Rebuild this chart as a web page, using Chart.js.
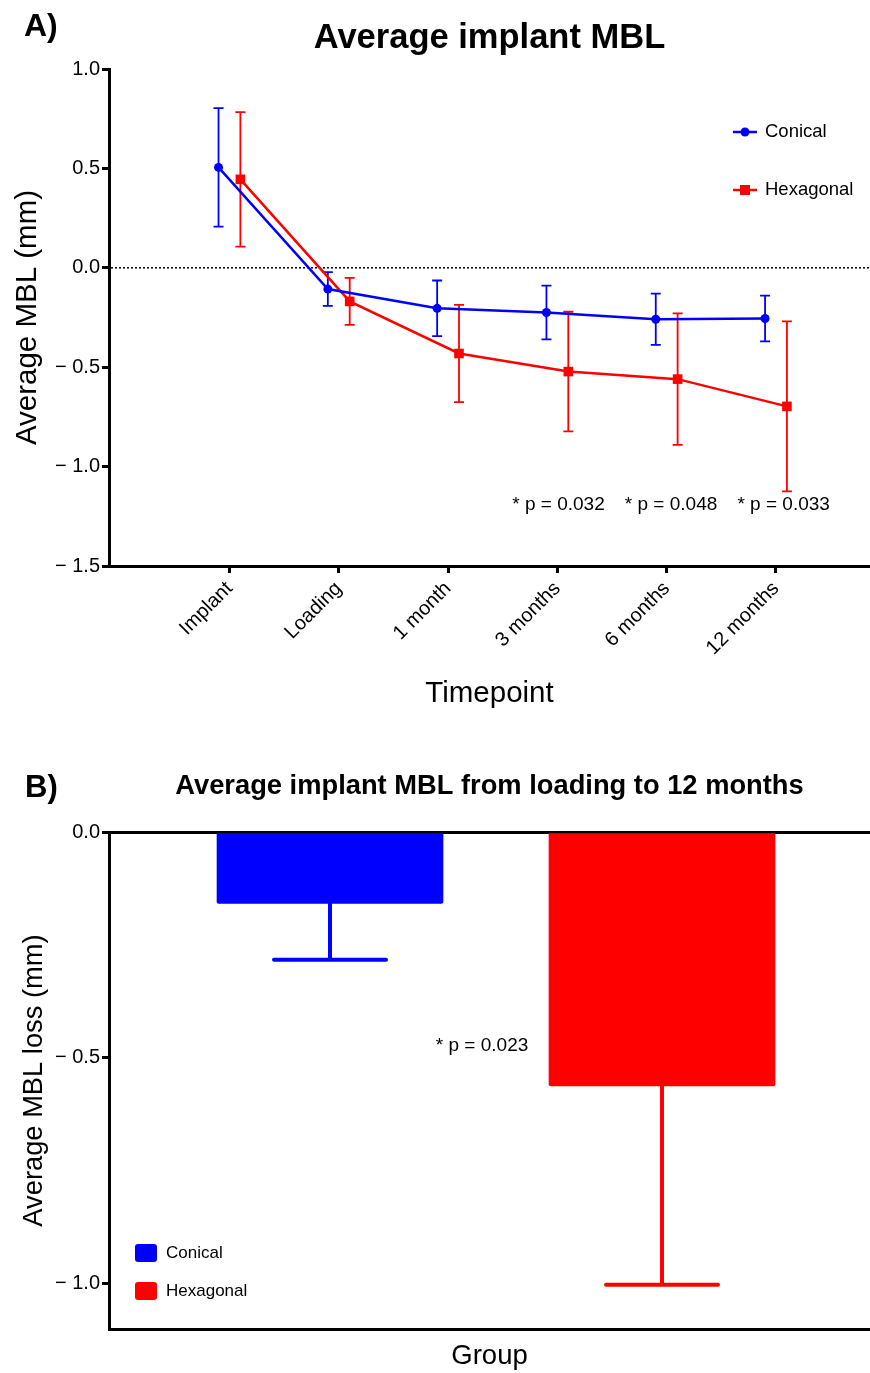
<!DOCTYPE html>
<html><head><meta charset="utf-8">
<script src="https://cdn.jsdelivr.net/npm/chart.js@4.4.1/dist/chart.umd.min.js"></script>
<style>
html,body{margin:0;padding:0;background:#fff;}
#wrap{position:relative;width:870px;height:1373px;}
#cA{position:absolute;left:0;top:0;}
#cB{position:absolute;left:0;top:720px;}
</style></head><body>
<div id="wrap">
<canvas id="cA" width="870" height="720"></canvas>
<canvas id="cB" width="870" height="653"></canvas>
</div>
<script>
// ---------- Data: chart A ----------
const timepoints = ['Implant', 'Loading', '1 month', '3 months', '6 months', '12 months'];
const conicalMean = [0.505, -0.107, -0.204, -0.225, -0.259, -0.255];
const conicalSD   = [0.298, 0.085, 0.140, 0.135, 0.129, 0.115];
const hexMean     = [0.445, -0.169, -0.431, -0.522, -0.560, -0.697];
const hexSD       = [0.338, 0.118, 0.245, 0.301, 0.331, 0.428];
const yTicksA = [1.0, 0.5, 0.0, -0.5, -1.0, -1.5];
const pLabelsA = ['* p = 0.032', '* p = 0.048', '* p = 0.033'];
const pPosA = [3.01, 4.04, 5.07];
const titleA = 'Average implant MBL';

// ---------- Data: chart B ----------
const groups = ['Conical', 'Hexagonal'];
const lossMean = [-0.158, -0.562];
const lossSD = [0.125, 0.440];
const yTicksB = [0.0, -0.5, -1.0];
const pLabelB = '* p = 0.023';
const titleB = 'Average implant MBL from loading to 12 months';

const BLUE = '#0000FF', RED = '#FF0000';
const FONT = "'Liberation Sans', Arial, Helvetica, sans-serif";
Chart.defaults.font.family = FONT;
Chart.defaults.color = '#000';

function fmt(v) {
  const n = Number(v);
  if (Math.abs(n) < 1e-9) return '0.0';
  return n < 0 ? '\u2212 ' + Math.abs(n).toFixed(1) : n.toFixed(1);
}
function noPad(s) { s.paddingLeft = 0; s.paddingRight = 0; }

// ---------- Chart A ----------
const sdA = [conicalSD, hexSD];
const pluginA = {
  id: 'pluginA',
  beforeDatasetsDraw(chart) {
    const {ctx, chartArea} = chart;
    const x = chart.scales.x, y = chart.scales.y;
    ctx.save();
    ctx.strokeStyle = '#000'; ctx.lineWidth = 1.5; ctx.setLineDash([2, 2]);
    const y0 = y.getPixelForValue(0);
    ctx.beginPath(); ctx.moveTo(chartArea.left + 2, y0); ctx.lineTo(chartArea.right, y0); ctx.stroke();
    ctx.setLineDash([]);
    chart.data.datasets.forEach((ds, di) => {
      ctx.strokeStyle = ds.borderColor; ctx.lineWidth = 1.8;
      ds.data.forEach((p, i) => {
        const sd = sdA[di][i];
        const px = x.getPixelForValue(p.x);
        const t = y.getPixelForValue(p.y + sd), b = y.getPixelForValue(p.y - sd);
        ctx.beginPath();
        ctx.moveTo(px, t); ctx.lineTo(px, b);
        ctx.moveTo(px - 5, t); ctx.lineTo(px + 5, t);
        ctx.moveTo(px - 5, b); ctx.lineTo(px + 5, b);
        ctx.stroke();
      });
    });
    ctx.restore();
  },
  afterDraw(chart) {
    const {ctx, chartArea} = chart;
    const x = chart.scales.x, y = chart.scales.y;
    ctx.save();
    ctx.fillStyle = '#000';
    ctx.font = 'bold 32px ' + FONT;
    ctx.textAlign = 'left'; ctx.textBaseline = 'alphabetic';
    ctx.fillText('A)', 24, 36);
    ctx.font = 'bold 34.5px ' + FONT;
    ctx.textAlign = 'center'; ctx.textBaseline = 'middle';
    ctx.fillText(titleA, (chartArea.left + chartArea.right) / 2, 38);
    // p annotations
    ctx.font = '19px ' + FONT;
    pLabelsA.forEach((t, i) => ctx.fillText(t, x.getPixelForValue(pPosA[i]), y.getPixelForValue(-1.19)));
    // legend
    const ly = [132, 190];
    chart.data.datasets.forEach((ds, i) => {
      ctx.strokeStyle = ds.borderColor; ctx.fillStyle = ds.borderColor; ctx.lineWidth = 2.5;
      ctx.beginPath(); ctx.moveTo(733, ly[i]); ctx.lineTo(757, ly[i]); ctx.stroke();
      if (i === 0) { ctx.beginPath(); ctx.arc(745, ly[i], 4.5, 0, Math.PI * 2); ctx.fill(); }
      else { ctx.fillRect(740, ly[i] - 5, 10, 10); }
      ctx.fillStyle = '#000';
      ctx.font = '18.5px ' + FONT;
      ctx.textAlign = 'left'; ctx.textBaseline = 'middle';
      ctx.fillText(ds.label, 765, ly[i]);
    });
    ctx.restore();
  }
};

new Chart(document.getElementById('cA'), {
  type: 'scatter',
  data: {
    datasets: [
      { label: 'Conical', data: conicalMean.map((v, i) => ({x: i - 0.1, y: v})), showLine: true,
        borderColor: BLUE, backgroundColor: BLUE, borderWidth: 2.5, pointStyle: 'circle',
        pointRadius: 4.5, pointBorderWidth: 0, pointBackgroundColor: BLUE },
      { label: 'Hexagonal', data: hexMean.map((v, i) => ({x: i + 0.1, y: v})), showLine: true,
        borderColor: RED, backgroundColor: RED, borderWidth: 2.5, pointStyle: 'rect',
        pointRadius: 6.8, pointBorderWidth: 0, pointBackgroundColor: RED }
    ]
  },
  options: {
    responsive: false, animation: false,
    layout: {autoPadding: false, padding: {top: 69, left: 0, right: 0, bottom: 0}},
    plugins: { legend: {display: false}, tooltip: {enabled: false}, title: {display: false} },
    scales: {
      x: {
        type: 'linear', min: -1.102, max: 5.86, offset: false,
        afterBuildTicks(s) { s.ticks = timepoints.map((t, i) => ({value: i})); },
        ticks: {callback: (v) => timepoints[Math.round(v)], minRotation: 45, maxRotation: 45,
          autoSkip: false, font: {size: 20}, padding: 4, color: '#000'},
        grid: {drawOnChartArea: false, tickLength: 7, tickColor: '#000', tickWidth: 3},
        border: {color: '#000', width: 3},
        title: {display: true, text: 'Timepoint', font: {size: 29.5}, padding: {top: 0, bottom: 8}, color: '#000'},
        afterFit(s) { s.height = 154; noPad(s); }
      },
      y: {
        min: -1.5, max: 1.0,
        afterBuildTicks(s) { s.ticks = yTicksA.map(v => ({value: v})); },
        ticks: {callback: fmt, font: {size: 20}, padding: 2, color: '#000'},
        grid: {drawOnChartArea: false, tickLength: 7, tickColor: '#000', tickWidth: 3},
        border: {color: '#000', width: 3},
        title: {display: true, text: 'Average MBL (mm)', font: {size: 29.5}, padding: {top: 10, bottom: 0}, color: '#000'},
        afterFit(s) { s.width = 109; }
      }
    }
  },
  plugins: [pluginA]
});

// ---------- Chart B ----------
const colorsB = [BLUE, RED];
const pluginB = {
  id: 'pluginB',
  afterDatasetsDraw(chart) {
    const {ctx} = chart;
    const x = chart.scales.x, y = chart.scales.y;
    ctx.save();
    ctx.lineWidth = 4; ctx.lineCap = 'round';
    lossMean.forEach((m, i) => {
      const px = x.getPixelForValue(i);
      const t = y.getPixelForValue(m), b = y.getPixelForValue(m - lossSD[i]);
      ctx.strokeStyle = colorsB[i];
      ctx.beginPath();
      ctx.moveTo(px, t); ctx.lineTo(px, b);
      ctx.moveTo(px - 56, b); ctx.lineTo(px + 56, b);
      ctx.stroke();
    });
    ctx.restore();
  },
  afterDraw(chart) {
    const {ctx, chartArea} = chart;
    const x = chart.scales.x, y = chart.scales.y;
    ctx.save();
    ctx.fillStyle = '#000';
    ctx.font = 'bold 31px ' + FONT;
    ctx.textAlign = 'left'; ctx.textBaseline = 'alphabetic';
    ctx.fillText('B)', 25, 77);
    ctx.font = 'bold 27.3px ' + FONT;
    ctx.textAlign = 'center'; ctx.textBaseline = 'middle';
    ctx.fillText(titleB, (chartArea.left + chartArea.right) / 2, 66);
    ctx.font = '19px ' + FONT;
    ctx.fillText(pLabelB, x.getPixelForValue(0.458), y.getPixelForValue(-0.473));
    // legend
    const ly = [533, 571];
    chart.data.datasets.forEach((ds, i) => {
      ctx.fillStyle = ds.backgroundColor;
      ctx.beginPath();
      if (ctx.roundRect) ctx.roundRect(135, ly[i] - 9, 22, 18, 3); else ctx.rect(135, ly[i] - 9, 22, 18);
      ctx.fill();
      ctx.fillStyle = '#000';
      ctx.font = '17px ' + FONT;
      ctx.textAlign = 'left'; ctx.textBaseline = 'middle';
      ctx.fillText(ds.label, 166, ly[i]);
    });
    ctx.restore();
  }
};

new Chart(document.getElementById('cB'), {
  type: 'bar',
  data: {
    datasets: groups.map((g, i) => ({
      label: g, data: [{x: i, y: lossMean[i]}], backgroundColor: colorsB[i],
      borderRadius: 2, barThickness: 226, grouped: false
    }))
  },
  options: {
    responsive: false, animation: false,
    layout: {autoPadding: false, padding: {top: 112, left: 0, right: 0, bottom: 0}},
    plugins: { legend: {display: false}, tooltip: {enabled: false}, title: {display: false} },
    scales: {
      x: {
        type: 'linear', min: -0.6657, max: 1.6265, offset: false,
        ticks: {display: false},
        grid: {display: false},
        border: {color: '#000', width: 3},
        title: {display: true, text: 'Group', font: {size: 27.5}, padding: {top: 0, bottom: 0}, color: '#000'},
        afterFit(s) { s.height = 44; noPad(s); }
      },
      y: {
        min: -1.1, max: 0,
        afterBuildTicks(s) { s.ticks = yTicksB.map(v => ({value: v})); },
        ticks: {callback: fmt, font: {size: 20}, padding: 2, color: '#000'},
        grid: {drawOnChartArea: true, color: (c) => (c.tick && Math.abs(c.tick.value) < 1e-9) ? '#000' : 'rgba(0,0,0,0)',
          lineWidth: 3, tickLength: 7, tickColor: '#000', tickWidth: 3},
        border: {color: '#000', width: 3},
        title: {display: true, text: 'Average MBL loss (mm)', font: {size: 27.3}, padding: {top: 18, bottom: 0}, color: '#000'},
        afterFit(s) { s.width = 109; }
      }
    }
  },
  plugins: [pluginB]
});
</script>
</body></html>
